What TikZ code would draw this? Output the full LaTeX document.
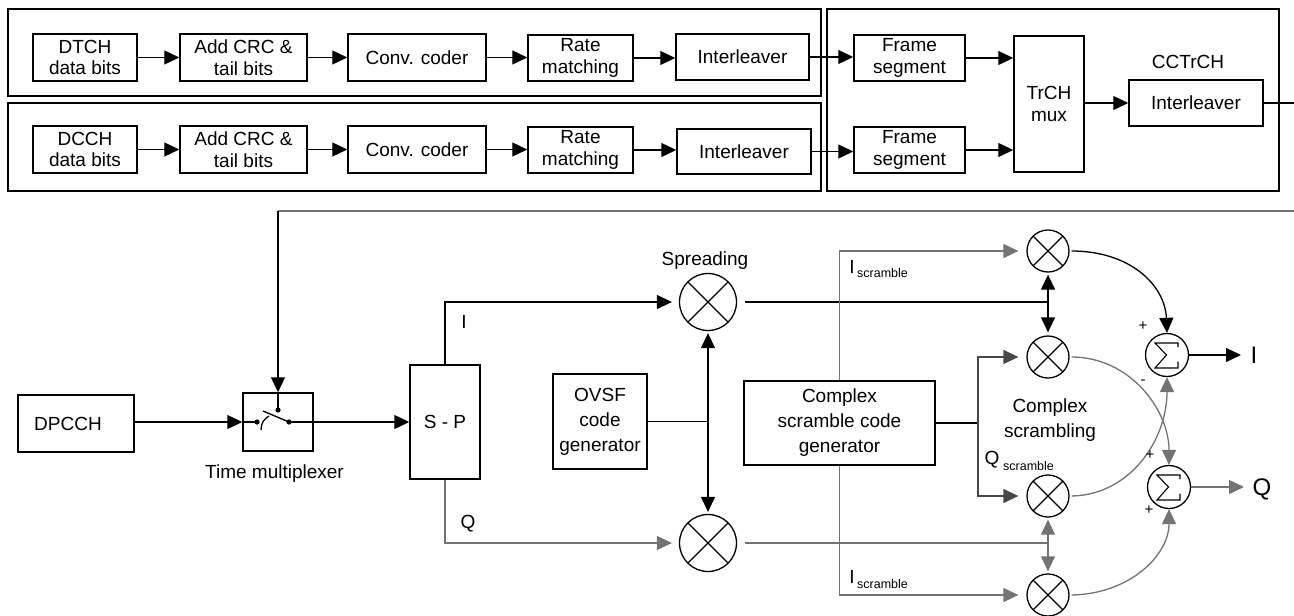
\documentclass[tikz,border=0pt]{standalone}
\usepackage{fontspec}
\setmainfont{Liberation Sans}
\usetikzlibrary{arrows.meta,calc}
\newcommand\fmain{\fontsize{19}{21.5}\selectfont}
\newcommand\fbot{\fontsize{19}{25}\selectfont}
\newcommand\fsml{\fontsize{12.5}{14}\selectfont}
\newcommand\fbig{\fontsize{24}{26}\selectfont}
\newcommand\fsign{\fontsize{15}{16}\selectfont}
\colorlet{gline}{black!55}
\colorlet{dline}{black!72}
\begin{document}
\begin{tikzpicture}[x=1pt,y=-1pt,
  blk/.style={draw, line width=1.5pt, inner sep=0pt, align=center, font=\fmain},
  bblk/.style={blk, font=\fbot},
  lbl/.style={inner sep=0pt, align=center, font=\fmain},
  blbl/.style={inner sep=0pt, align=center, font=\fbot},
  sml/.style={inner sep=0pt, font=\fsml},
  sign/.style={inner sep=0pt, font=\fsign},
  ln/.style={line width=1.3pt},
  arr/.style={ln, -{Triangle[length=15pt,width=14pt]}},
  garr/.style={arr, color=gline},
  darr/.style={arr, color=dline},
  cont/.style={draw, line width=1.5pt},
  mixer/.style={circle, draw, line width=1.3pt, inner sep=0pt,
    path picture={\draw[line width=1.3pt]
      (path picture bounding box.north west) -- (path picture bounding box.south east)
      (path picture bounding box.north east) -- (path picture bounding box.south west);}},
  summer/.style={circle, draw, line width=1.3pt, inner sep=0pt, minimum size=43pt,
    path picture={\draw[line width=1.1pt]
      ([shift={(11pt,8pt)}]path picture bounding box.center) -- ++(0pt,4pt) -- ++(-23pt,0pt)
      -- ++(11.5pt,-12pt) -- ++(-11.5pt,-13pt) -- ++(23pt,0pt) -- ++(0pt,6.5pt);}}
]
\useasboundingbox (0,0) rectangle (1294,616);
\coordinate (redge) at (1294,0);

% ---------- containers ----------
\draw[cont] (8,9) rectangle (821,96);
\draw[cont] (8,103) rectangle (821,191);
\draw[cont] (827,9) rectangle (1279,191);

% ---------- top row ----------
\node[blk, minimum width=104pt, minimum height=47pt] (dtch) at (85,57.5) {DTCH\\data bits};
\node[blk, minimum width=127pt, minimum height=47pt] (crc1) at (243.5,57.5) {Add CRC \&\\tail bits};
\node[blk, minimum width=138pt, minimum height=47pt] (conv1) at (417,57.5) {Conv. coder};
\node[blk, minimum width=105pt, minimum height=46pt] (rate1) at (580.5,58) {Rate\\matching};
\node[blk, minimum width=133pt, minimum height=46pt] (il1) at (742.5,57) {Interleaver};

% ---------- second row ----------
\node[blk, minimum width=104pt, minimum height=47pt] (dcch) at (85,149.5) {DCCH\\data bits};
\node[blk, minimum width=127pt, minimum height=47pt] (crc2) at (243.5,149.5) {Add CRC \&\\tail bits};
\node[blk, minimum width=138pt, minimum height=47pt] (conv2) at (417,149.5) {Conv. coder};
\node[blk, minimum width=105pt, minimum height=46pt] (rate2) at (580.5,150) {Rate\\matching};
\node[blk, minimum width=134pt, minimum height=45pt] (il2) at (744,151.5) {Interleaver};

% ---------- multiplexing ----------
\node[blk, minimum width=111pt, minimum height=46pt] (fs1) at (909.5,58) {Frame\\segment};
\node[blk, minimum width=111pt, minimum height=46pt] (fs2) at (909.5,150) {Frame\\segment};
\node[blk, minimum width=70pt, minimum height=136pt] (mux) at (1049,104) {TrCH\\mux};
\node[blk, minimum width=134pt, minimum height=46pt] (il3) at (1196,103) {Interleaver};
\node[lbl] (cct) at (1188,62) {CCTrCH};

\foreach \a/\b in {dtch/crc1, crc1/conv1, conv1/rate1, rate1/il1, dcch/crc2, crc2/conv2, conv2/rate2, rate2/il2, il1/fs1, il2/fs2, fs1/mux, fs2/mux}
  \draw[arr] (\a.east) -- (\a.east -| \b.west);
\draw[arr] (mux.east |- il3.west) -- (il3.west);
\draw[ln] (il3.east) -- (il3.east -| redge);

% ---------- lower part ----------
\node[bblk, minimum width=116pt, minimum height=57pt] (dpcch) at (76,423.5) {DPCCH\hspace*{16pt}};
\node[bblk, minimum width=70pt, minimum height=58pt] (sw) at (278,422) {};
\node[blbl] (tmux) at (274.5,474) {Time multiplexer};
\node[bblk, minimum width=70pt, minimum height=114pt] (sp) at (445,422) {S - P};
\node[bblk, minimum width=94pt, minimum height=95pt] (ovsf) at (600,421.5) {OVSF\\code\\generator};
\node[bblk, minimum width=191pt, minimum height=84pt] (csg) at (839.5,423) {Complex\\scramble code\\generator};

\node[mixer, minimum size=57pt] (spr1) at (708,302) {};
\node[mixer, minimum size=57pt] (spr2) at (708,543) {};
\node[blbl] (sprl) at (705,261) {Spreading};

\node[mixer, minimum size=42pt] (m1) at (1048,251) {};
\node[mixer, minimum size=42pt] (m2) at (1048,357) {};
\node[mixer, minimum size=42pt] (m3) at (1048,496) {};
\node[mixer, minimum size=42pt] (m4) at (1048,595) {};
\node[summer] (s1) at (1167,355) {};
\node[summer] (s2) at (1169,487) {};
\node[blbl] (csl) at (1050,420) {Complex\\scrambling};

% switch
\coordinate (swin) at (257,422);
\coordinate (swout) at (289,422);
\coordinate (swpv) at (278,410);
\coordinate (fbr) at (1294,211);
\draw[ln, color=gline] (fbr) -- (sw.north |- fbr);
\draw[arr] (sw.north |- fbr) -- (sw.north);
\draw[ln] (sw.north) -- (swpv);
\draw[arr] (dpcch.east |- sw.west) -- (sw.west);
\draw[ln] (sw.west) -- (swin);
\draw[ln] (263,411) -- (swout);
\draw[ln] (261,430) .. controls (261,423) and (264,419) .. (269,416);
\fill (swin) circle (2.6pt) (swout) circle (2.6pt) (swpv) circle (2.6pt);
\draw[arr] (swout) -- (sp.west |- swout);

% I / Q split
\draw[arr, shorten >=7pt] (sp.north) |- (spr1.west);
\draw[garr, shorten >=7pt] (sp.south) |- (spr2.west);
\node[blbl] (il) at (464,322) {I};
\node[blbl] (ql) at (468,524) {Q};

% OVSF
\coordinate (ovj) at (ovsf.east -| spr1.south);
\draw[ln] (ovsf.east) -- (ovj);
\draw[arr, shorten >=2pt] (ovj) -- (spr1.south);
\draw[arr, shorten >=2pt] (ovj) -- (spr2.north);

% spread outputs
\coordinate (j1) at (m1 |- spr1);
\coordinate (j2) at (m3 |- spr2);
\draw[ln] ([xshift=8pt]spr1.east) -- (j1);
\draw[arr, shorten >=2pt] (j1) -- (m1.south);
\draw[arr, shorten >=3pt] (j1) -- (m2.north);
\draw[ln, color=gline] ([xshift=8pt]spr2.east) -- (j2);
\draw[garr, shorten >=2pt] (j2) -- (m3.south);
\draw[garr, shorten >=2pt] (j2) -- (m4.north);

% scramble code
\draw[garr, shorten >=8pt] (csg.north) |- (m1.west);
\draw[garr, shorten >=8pt] (csg.south) |- (m4.west);
\coordinate (gj) at (978,423);
\draw[ln] (csg.east |- gj) -- (gj);
\draw[darr, shorten >=8pt] (gj) |- (m2.west);
\draw[darr, shorten >=8pt] (gj) |- (m3.west);

\node[lbl] (isc1) at (852,267) {I};
\node[sml, anchor=west] (isc1s) at (857,273) {scramble};
\node[lbl] (isc2) at (852,577) {I};
\node[sml, anchor=west] (isc2s) at (857,584) {scramble};
\node[lbl] (qsc) at (992,460) {Q};
\node[sml, anchor=west] (qscs) at (1003,466) {scramble};

% combining curves
\draw[arr] ([xshift=2pt]m1.east) .. controls (1130,251) and (1165,285) .. (s1.north);
\draw[garr] ([xshift=2pt]m2.east) .. controls (1130,357) and (1169,410) .. (s2.north);
\draw[garr] ([xshift=2pt]m3.east) .. controls (1130,495) and (1167,440) .. (s1.south);
\draw[garr] ([xshift=2pt]m4.east) .. controls (1130,594) and (1169,555) .. (s2.south);

\node[sign] (p1) at (1143,326) {+};
\node[sign] (n1) at (1143,382) {-};
\node[sign] (p2) at (1150,455) {+};
\node[sign] (p3) at (1149,510) {+};

% outputs
\coordinate (tipI) at (1241,355);
\coordinate (tipQ) at (1244,487);
\draw[arr] (s1.east) -- (tipI);
\draw[garr] (s2.east) -- (tipQ);
\node[inner sep=0pt, font=\fbig] (outI) at (1254,355) {I};
\node[inner sep=0pt, font=\fbig] (outQ) at (1262,489) {Q};
\end{tikzpicture}
\end{document}
